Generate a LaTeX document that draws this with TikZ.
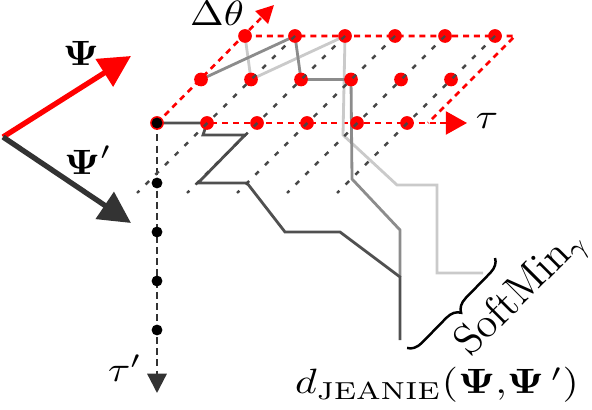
\documentclass[tikz,border=0pt]{standalone}
\usepackage{amsmath, amssymb}
\usepackage{tikz}
\usetikzlibrary{calc, arrows.meta, decorations.pathreplacing}
\usepackage{xcolor}

\definecolor{warpdark}{HTML}{505050}
\definecolor{warpmid}{HTML}{8C8C8C}
\definecolor{warplight}{HTML}{CACACA}
\definecolor{axisgray}{HTML}{333333}

\tikzset{
  reddash/.style = {red, line width=0.75pt, dash pattern=on 1.7pt off 1.4pt},
  griddash/.style = {axisgray!90, line width=0.7pt, dash pattern=on 1.4pt off 2.5pt},
  warp/.style = {line width=0.8pt},
  reddot/.style = {circle, fill=red, inner sep=0pt, minimum size=3.9pt},
  blackdot/.style = {circle, fill=black, inner sep=0pt, minimum size=3.1pt},
  lbl/.style = {inner sep=0pt, xscale=1.15}
}

\begin{document}
\begin{tikzpicture}[x = 0.01cm, y = -0.01cm]
  \useasboundingbox (0,0) rectangle (592,410);
  % lattice of (tau, theta) points
  \foreach \i in {0,...,5}
    \foreach \j in {0,1,2}
      \coordinate (g\i\j) at ({157+50*\i+44*\j},{123-43.5*\j});
  \coordinate (O) at (g00);
  \coordinate (TauEnd) at (467,123);
  \coordinate (ThetaEnd) at (274,5);
  \coordinate (TopEnd) at (515,36);
  \coordinate (RightEnd) at (428,123);
  \coordinate (TauPEnd) at (157,393);
  \coordinate (S) at (3,137);
  \coordinate (PsiEnd) at (131,56);
  \coordinate (PsiPEnd) at (131,223);

  % red frame and axes
  \draw[reddash] (g02) -- (TopEnd) -- (RightEnd);
  \draw[reddash, -{Triangle[length=6pt, width=6.5pt]}] (O) -- (TauEnd);
  \draw[reddash, -{Triangle[length=5pt, width=5pt]}] (O) -- (ThetaEnd);
  \draw[axisgray, line width=0.65pt, dash pattern=on 2pt off 1.2pt,
        -{Triangle[length=5.5pt, width=5.5pt]}] (O) -- (TauPEnd);

  % warping paths
  \draw[warp, warplight] (g02) -- (g11) -- (g22) -- (343,135) -- (397,185)
        -- (437,185) -- (437,273) -- (483,273);
  \draw[warp, warpmid] (g01) -- (g12) -- (g21) -- (g31) -- (352,179)
        -- (400,230) -- (400,277);
  \draw[warp, warpdark] (O) -- (g10) -- (203,135) -- (245,135) -- (198,183)
        -- (247,183) -- (285,232) -- (340,232) -- (400,277) -- (400,340);

  % points
  \foreach \i in {0,...,5}
    \foreach \j in {0,1,2}
      \node[reddot] (d\i\j) at (g\i\j) {};
  \node[blackdot] (o) at (O) {};
  \foreach \k in {1,...,4}
    \node[blackdot] (b\k) at (157,{134+49*\k}) {};

  % dashed theta lines
  \foreach \i in {1,...,5}
    \draw[griddash] (g\i2) -- ($(g\i0)+(-70,70)$);

  % input sequences
  \draw[red, line width=1.5pt, -{Triangle[length=9pt, width=9pt]}] (S) -- (PsiEnd);
  \draw[axisgray, line width=1.5pt, -{Triangle[length=9pt, width=9pt]}] (S) -- (PsiPEnd);

  % labels
  \node[lbl] (psi) at (81,53) {$\boldsymbol{\Psi}$};
  \node[lbl] (psip) at (88,160) {$\boldsymbol{\Psi}'$};
  \node[lbl] (dth) at (217,13) {$\Delta\theta$};
  \node[lbl] (tau) at (487,121) {$\tau$};
  \node[lbl] (taup) at (125,368) {$\tau'$};
  \node[lbl, xscale=1.03] (dist) at (437,385)
    {$d_{\text{JEANIE}}(\boldsymbol{\Psi}{,}\boldsymbol{\Psi}\,')$};

  % soft minimum
  \draw[decorate, decoration={brace, amplitude=4pt}, line width=0.7pt] (495,258) -- (407,348);
  \node[rotate=45, font=\large, inner sep=0pt] (soft) at (522,294) {$\mathrm{SoftMin}_\gamma$};
\end{tikzpicture}
\end{document}
